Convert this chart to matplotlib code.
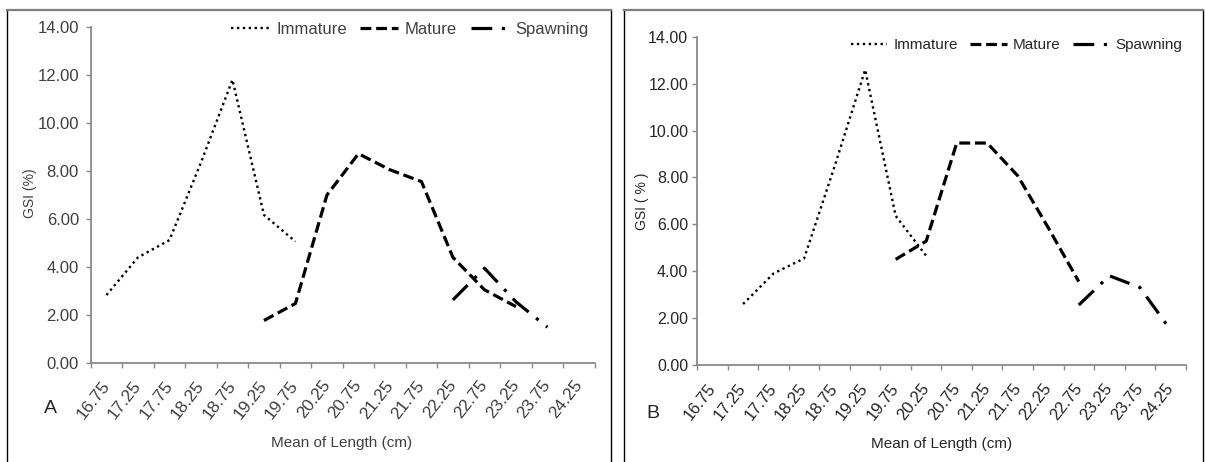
"""
GSI by mean length class, two panels (A, B), three maturity stages.
"""
import matplotlib
matplotlib.use('Agg')
import matplotlib.pyplot as plt
from matplotlib.lines import Line2D

length_labels = ['16.75', '17.25', '17.75', '18.25', '18.75', '19.25', '19.75', '20.25',
                 '20.75', '21.25', '21.75', '22.25', '22.75', '23.25', '23.75', '24.25']
gsi_ticks = [0, 2, 4, 6, 8, 10, 12, 14]

# panel A
a_immature_len = ['16.75', '17.25', '17.75', '18.25', '18.75', '19.25', '19.75']
a_immature_gsi = [2.83, 4.40, 5.12, 8.35, 11.80, 6.17, 5.06]
a_mature_len = ['19.25', '19.75', '20.25', '20.75', '21.25', '21.75', '22.25', '22.75', '23.25']
a_mature_gsi = [1.77, 2.48, 7.00, 8.72, 8.05, 7.56, 4.40, 3.05, 2.35]
a_spawning_len = ['22.25', '22.75', '23.25', '23.75']
a_spawning_gsi = [2.63, 3.95, 2.55, 1.49]

# panel B
b_immature_len = ['17.25', '17.75', '18.25', '18.75', '19.25', '19.75', '20.25']
b_immature_gsi = [2.59, 3.90, 4.54, 8.48, 12.60, 6.36, 4.65]
b_mature_len = ['19.75', '20.25', '20.75', '21.25', '21.75', '22.25', '22.75']
b_mature_gsi = [4.50, 5.28, 9.47, 9.47, 8.07, 5.85, 3.55]
b_spawning_len = ['22.75', '23.25', '23.75', '24.25']
b_spawning_gsi = [2.55, 3.80, 3.30, 1.50]

FONT = ['Liberation Sans', 'DejaVu Sans']
W, H = 1205, 462


def fx(px):
    return px / W


def fy(py):
    return 1 - py / H


def idx(labels):
    return [length_labels.index(l) for l in labels]


def panel(fig, rect, series, txtcol, ylabel, ytick_pad, xtick_pad, yfs, xfs, lfs):
    ax = fig.add_axes(rect)
    styles = [
        dict(dashes=(1, 1.5), lw=1.7, label='Immature'),
        dict(dashes=(3.4, 1.5), lw=2.3, label='Mature'),
        dict(dashes=(6.5, 3, 1, 3), lw=2.3, label='Spawning'),
    ]
    for (lens, vals), st in zip(series, styles):
        ax.plot(idx(lens), vals, color='black', dash_capstyle='butt', **st)

    ax.set_xlim(-0.5, len(length_labels) - 0.5)
    ax.set_ylim(0, 14)
    ax.set_yticks(gsi_ticks)
    ax.set_yticklabels(['%.2f' % v for v in gsi_ticks], family=FONT, fontsize=yfs, color=txtcol)
    ax.set_xticks([i - 0.5 for i in range(len(length_labels) + 1)])
    ax.set_xticklabels([])
    ax.set_xticks(range(len(length_labels)), minor=True)
    ax.set_xticklabels(length_labels, minor=True, rotation=52, ha='right', va='center',
                       rotation_mode='anchor', family=FONT, fontsize=xfs, color=txtcol)
    ax.tick_params(axis='x', which='minor', length=0, pad=xtick_pad)
    ax.tick_params(axis='both', which='major', length=3.5, width=1, color='#8a8a8a')
    ax.tick_params(axis='y', pad=ytick_pad)
    for s in ['top', 'right']:
        ax.spines[s].set_visible(False)
    for s in ['left', 'bottom']:
        ax.spines[s].set_color('#8a8a8a')
        ax.spines[s].set_linewidth(1.3)
    ax.set_ylabel(ylabel, family=FONT, fontsize=10, color=txtcol)
    ax.set_xlabel('Mean of Length (cm)', family=FONT, fontsize=lfs, color=txtcol)
    return ax


fig = plt.figure(figsize=(W / 100, H / 100), dpi=100)

# panel A axes: x 90.7..594.7 px, y 0 at 363, 14 at 27
axA = panel(fig, [fx(90.7), fy(363), (594.7 - 90.7) / W, (363 - 27) / H],
            [(a_immature_len, a_immature_gsi), (a_mature_len, a_mature_gsi),
             (a_spawning_len, a_spawning_gsi)],
            '#404040', 'GSI (%)', 5, 14, 12, 12.5, 11)
# panel B axes: x 697.3..1185.6 px, y 0 at 364.7, 14 at 37
axB = panel(fig, [fx(697.3), fy(364.7), (1185.6 - 697.3) / W, (364.7 - 37) / H],
            [(b_immature_len, b_immature_gsi), (b_mature_len, b_mature_gsi),
             (b_spawning_len, b_spawning_gsi)],
            '#262626', 'GSI ( % )', 3, 15, 11.5, 12, 11)

# label positions (converted from pixels into axes fractions)
axA.xaxis.set_label_coords((342 - 90.7) / 504, (363 - 436) / 336)
axA.yaxis.set_label_coords((37 - 90.7) / 504, (363 - 193) / 336)
axB.xaxis.set_label_coords((941.6 - 697.3) / 488.3, (364.7 - 437) / 327.7)
axB.yaxis.set_label_coords((649 - 697.3) / 488.3, (364.7 - 201) / 327.7)

axA.legend(ncol=3, loc='center', bbox_to_anchor=(fx(410), fy(29.5)), bbox_transform=fig.transFigure,
           frameon=False, prop=dict(family=FONT, size=12), labelcolor='#404040',
           handlelength=2.3, handletextpad=0.4, columnspacing=0.8, borderpad=0)
axB.legend(ncol=3, loc='center', bbox_to_anchor=(fx(1016.5), fy(45)), bbox_transform=fig.transFigure,
           frameon=False, prop=dict(family=FONT, size=11), labelcolor='#262626',
           handlelength=2.4, handletextpad=0.4, columnspacing=0.8, borderpad=0)

fig.text(fx(50), fy(408.7), 'A', family=FONT, fontsize=14, color='#262626', ha='center', va='center')
fig.text(fx(652.7), fy(413.7), 'B', family=FONT, fontsize=14, color='#262626', ha='center', va='center')

# panel frames
for left, right in [(7.3, 610.7), (624.3, 1203)]:
    fig.add_artist(Line2D([fx(left), fx(left)], [fy(10), 0], transform=fig.transFigure, color='black', lw=1))
    fig.add_artist(Line2D([fx(right), fx(right)], [fy(10), 0], transform=fig.transFigure, color='black', lw=1))
    fig.add_artist(Line2D([fx(left), fx(right)], [fy(10), fy(10)], transform=fig.transFigure,
                          color='#7f7f7f', lw=1.6))

fig.savefig('out.png', dpi=100)
